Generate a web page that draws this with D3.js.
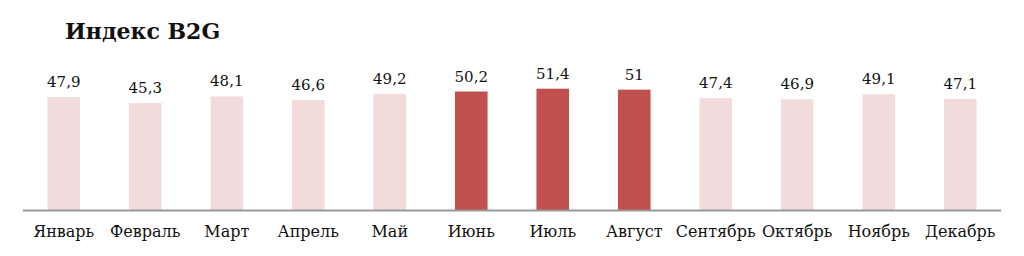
<!DOCTYPE html>
<html>
<head>
<meta charset="utf-8">
<script src="https://cdn.jsdelivr.net/npm/d3@7"></script>
<style>
  html, body { margin: 0; padding: 0; background: #fff; }
  svg { display: block; }
</style>
</head>
<body>
<svg id="chart" width="1024" height="256"></svg>
<script>
const months = ["Январь","Февраль","Март","Апрель","Май","Июнь","Июль","Август","Сентябрь","Октябрь","Ноябрь","Декабрь"];
const values = [47.9, 45.3, 48.1, 46.6, 49.2, 50.2, 51.4, 51, 47.4, 46.9, 49.1, 47.1];
const labels = ["47,9","45,3","48,1","46,6","49,2","50,2","51,4","51","47,4","46,9","49,1","47,1"];
const highlighted = ["Июнь","Июль","Август"];
const title = "Индекс B2G";

const svg = d3.select("#chart");
const font = "'DejaVu Serif', 'Liberation Serif', serif";

const x = d3.scaleBand().domain(months).range([23, 1001]).paddingInner(0.6).paddingOuter(0.3);
const y = d3.scaleLinear().domain([0, 60]).range([210, 68.4]);

svg.append("text")
  .attr("x", 65).attr("y", 39)
  .attr("font-family", font).attr("font-weight", "bold")
  .attr("font-size", 22).attr("fill", "#111")
  .text(title);

const data = months.map((m, i) => ({m, v: values[i], l: labels[i]}));

svg.selectAll("rect.bar").data(data).enter().append("rect")
  .attr("class", "bar")
  .attr("x", d => x(d.m))
  .attr("width", x.bandwidth())
  .attr("y", d => y(d.v))
  .attr("height", d => y(0) - y(d.v))
  .attr("fill", d => highlighted.includes(d.m) ? "#c0504d" : "#f2dcdb");

svg.selectAll("text.val").data(data).enter().append("text")
  .attr("class", "val")
  .attr("x", d => x(d.m) + x.bandwidth() / 2)
  .attr("y", d => y(d.v) - 10)
  .attr("text-anchor", "middle")
  .attr("font-family", font).attr("font-size", 15).attr("fill", "#111")
  .text(d => d.l);

const axis = d3.axisBottom(x).tickSize(0).tickPadding(16);
const g = svg.append("g").attr("transform", "translate(0,210)").call(axis);
g.select(".domain").attr("stroke", "#999").attr("stroke-width", 2).attr("d", "M23,0.5H1001");
g.selectAll("text").attr("font-family", font).attr("font-size", 16).attr("fill", "#111");
</script>
</body>
</html>
